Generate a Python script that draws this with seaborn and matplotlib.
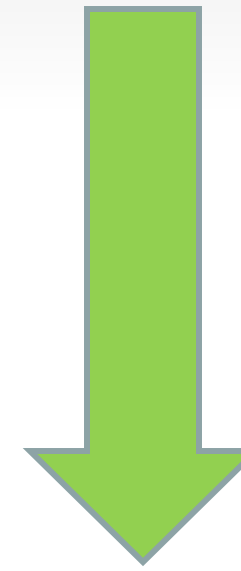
import numpy as np
import matplotlib
matplotlib.use("Agg")
import matplotlib.pyplot as plt
import seaborn as sns

# размеры картинки в пикселях
W, H = 241, 571

# геометрия стрелки (по центру обводки, в пикселях)
shaft_x = [87, 199]      # левая и правая стенки ствола
shaft_top = 9
shoulder_y = 451         # где ствол переходит в наконечник
wing_x = [30, 256]       # концы "крыльев" наконечника
tip_y = 562

fill_color = "#92D050"
edge_color = "#8DA3A6"

sns.set_style("white")

fig = plt.figure(figsize=(W / 100, H / 100), dpi=100)
ax = fig.add_axes([0, 0, 1, 1])

# лёгкий серый градиент сверху
grad = np.ones((H, 1))
top = 110
grad[:top, 0] = np.linspace(0.965, 1.0, top)
ax.imshow(np.dstack([grad, grad, grad]), extent=[0, W, H, 0], aspect="auto", zorder=0)

cx = (shaft_x[0] + shaft_x[1]) / 2
xs = [shaft_x[0], shaft_x[1], shaft_x[1], wing_x[1], cx, wing_x[0], shaft_x[0]]
ys = [shaft_top, shaft_top, shoulder_y, shoulder_y, tip_y, shoulder_y, shoulder_y]
ax.fill(xs, ys, facecolor=fill_color, edgecolor=edge_color, linewidth=4.3,
        joinstyle="miter", zorder=2)

ax.set_xlim(0, W)
ax.set_ylim(H, 0)
ax.axis("off")

fig.savefig("out.png", dpi=100)
